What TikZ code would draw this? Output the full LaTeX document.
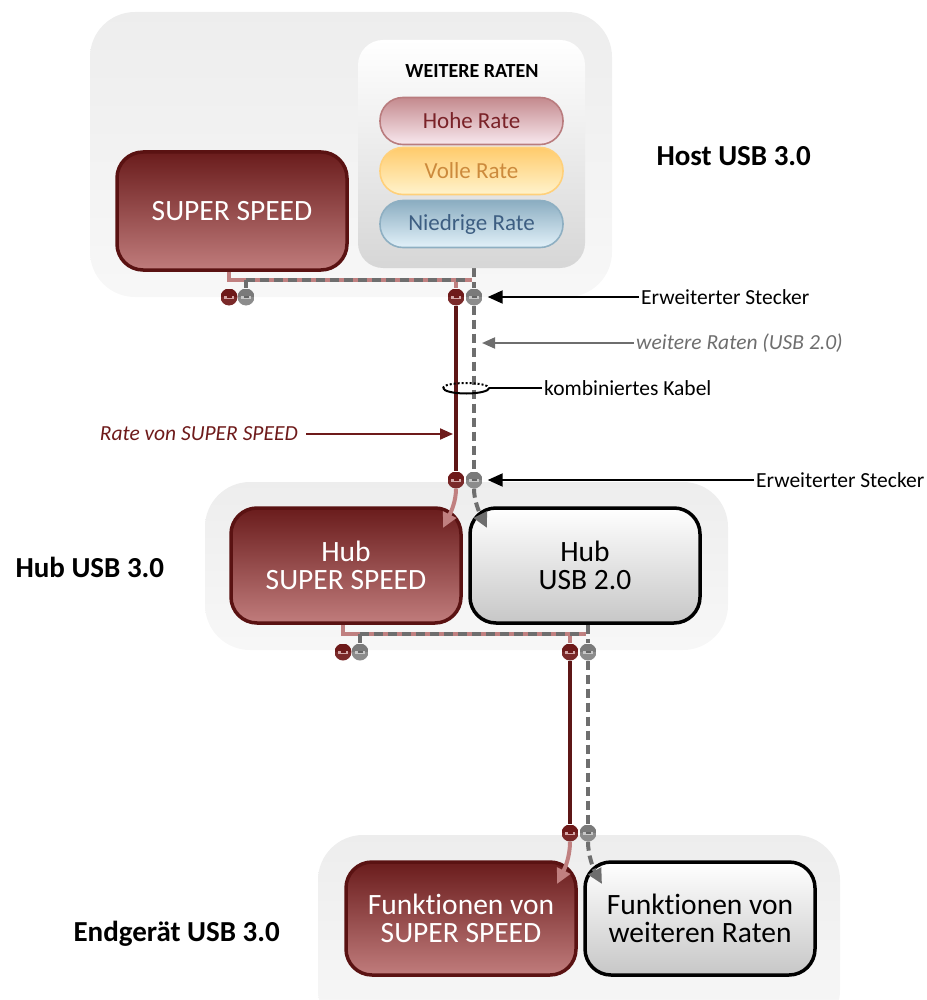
\documentclass[tikz,border=0pt]{standalone}
\usepackage{fontspec}
\setmainfont{Carlito}[Ligatures={NoCommon,NoContextual,NoRequired}]
\usetikzlibrary{arrows.meta,shapes.geometric,calc}
\pgfdeclarelayer{panels}
\pgfdeclarelayer{wires}
\pgfsetlayers{panels,wires,main}

\definecolor{ssedge}{HTML}{5A1212}
\definecolor{sstop}{HTML}{6A1C1C}
\definecolor{ssbot}{HTML}{C07C7C}
\definecolor{pinkwire}{HTML}{C08080}
\definecolor{darkwire}{HTML}{5E1616}
\definecolor{graywire}{HTML}{6E6E6E}
\definecolor{ratered}{HTML}{6E1A1A}
\definecolor{highedge}{HTML}{B97C7E}
\definecolor{hightop}{HTML}{C48A8E}
\definecolor{highbot}{HTML}{F8E8EE}
\definecolor{hightext}{HTML}{7A2228}
\definecolor{fulledge}{HTML}{FFD07A}
\definecolor{fulltop}{HTML}{FFCB6C}
\definecolor{fullbot}{HTML}{FFF3CC}
\definecolor{fulltext}{HTML}{CC8A3C}
\definecolor{lowedge}{HTML}{8EAFC2}
\definecolor{lowtop}{HTML}{8BADC1}
\definecolor{lowbot}{HTML}{E2F1F9}
\definecolor{lowtext}{HTML}{3D5E82}

\tikzset{
  panel/.style={rounded corners=45pt, top color=black!7, bottom color=black!3, inner sep=0pt},
  ssbox/.style={rounded corners=26pt, draw=ssedge, line width=3.5pt, top color=sstop, bottom color=ssbot,
    text=white, align=center, font=\fontsize{29.5}{28}\selectfont, inner sep=0pt},
  usbbox/.style={rounded corners=26pt, draw=black, line width=3.5pt, top color=white, bottom color=black!22,
    text=black, align=center, font=\fontsize{29.5}{28}\selectfont, inner sep=0pt},
  pill/.style={rounded corners=23pt, line width=1.6pt, minimum width=183pt, minimum height=47pt,
    font=\fontsize{23}{24}\selectfont, inner sep=0pt},
  paneltitle/.style={font=\bfseries\fontsize{29}{30}\selectfont},
  anno/.style={font=\fontsize{21.5}{23}\selectfont, inner sep=2pt},
  annoit/.style={font=\itshape\fontsize{21.5}{23}\selectfont, inner sep=2pt},
  conred/.style={circle, minimum size=17pt, inner sep=0pt,
    path picture={
      \fill[ratered] (path picture bounding box.north west) rectangle (path picture bounding box.east);
      \fill[ratered!85!pinkwire] (path picture bounding box.south west) rectangle (path picture bounding box.east);
      \draw[line width=3pt, pinkwire!70!white] ($(path picture bounding box.center)+(-5,0)$) -- ++(10,0);
      \draw[line width=1.6pt, ratered] ($(path picture bounding box.center)+(-2.5,0)$) -- ++(5,0);
    }},
  congray/.style={circle, minimum size=17pt, inner sep=0pt,
    path picture={
      \fill[black!52] (path picture bounding box.north west) rectangle (path picture bounding box.east);
      \fill[black!45] (path picture bounding box.south west) rectangle (path picture bounding box.east);
      \draw[line width=3pt, black!22] ($(path picture bounding box.center)+(-5,0)$) -- ++(10,0);
      \draw[line width=1.6pt, black!60] ($(path picture bounding box.center)+(-2.5,0)$) -- ++(5,0);
    }},
  pinkw/.style={draw=pinkwire, line width=4pt},
  darkw/.style={draw=darkwire, line width=4.5pt},
  grayw/.style={draw=graywire, line width=4pt, dash pattern=on 9pt off 5pt},
  pointer/.style={draw=black, line width=2pt, -{Triangle[length=15pt,width=13pt]}},
  flowpink/.style={draw=pinkwire, line width=4pt, -{Triangle[length=15pt,width=14pt]}},
  flowgray/.style={draw=graywire, line width=4pt, dash pattern=on 9pt off 5pt, -{Triangle[length=15pt,width=14pt]}},
}

\begin{document}
\begin{tikzpicture}[x=1pt,y=-1pt]
\useasboundingbox (0,0) rectangle (926,1000);

% ---------- background panels ----------
\begin{pgfonlayer}{panels}
  \node[panel, minimum width=522pt, minimum height=285pt] (hostpanel) at (351,154.5) {};
  \node[panel, minimum width=523pt, minimum height=168pt] (hubpanel) at (466.5,566) {};
  \node[panel, minimum width=522pt, minimum height=200pt] (devpanel) at (579,935) {};
\end{pgfonlayer}

% ---------- host ----------
\node[ssbox, minimum width=230pt, minimum height=118pt] (hostss) at (232,211) {SUPER SPEED};
\node[rounded corners=25pt, top color=white, bottom color=black!16, minimum width=227pt, minimum height=228pt,
      inner sep=0pt] (others) at (471.5,154) {};
\node[font=\bfseries\fontsize{20}{21}\selectfont] (otherstitle) at (472,71) {WEITERE RATEN};
\node[pill, draw=highedge, top color=hightop, bottom color=highbot, text=hightext] (high) at (471.5,121) {Hohe Rate};
\node[pill, draw=fulledge, top color=fulltop, bottom color=fullbot, text=fulltext] (full) at (471.5,171) {Volle Rate};
\node[pill, draw=lowedge, top color=lowtop, bottom color=lowbot, text=lowtext] (low) at (471.5,224) {Niedrige Rate};
\node[paneltitle, anchor=west] (hostlbl) at (653,156) {Host USB 3.0};

% ---------- hub ----------
\node[ssbox, minimum width=230pt, minimum height=115pt] (hubss) at (346,565.5) {Hub\\SUPER SPEED};
\node[usbbox, minimum width=230pt, minimum height=115pt] (hub20) at (585,565.5) {Hub\\USB 2.0};
\node[paneltitle, anchor=west] (hublbl) at (12,567) {Hub USB 3.0};

% ---------- device ----------
\node[ssbox, minimum width=230pt, minimum height=113pt] (devss) at (461,918.5) {Funktionen von\\SUPER SPEED};
\node[usbbox, minimum width=230pt, minimum height=113pt] (devother) at (700,918.5) {Funktionen von\\weiteren Raten};
\node[paneltitle, anchor=west] (devlbl) at (70,934) {Endgerät USB 3.0};

% ---------- connectors ----------
\node[conred] (hr1) at (229,297) {};
\node[congray] (hg1) at (246,297) {};
\node[conred] (hr2) at (456,297) {};
\node[congray] (hg2) at (474,297) {};
\node[conred] (cr) at (456,480) {};
\node[congray] (cg) at (474,480) {};
\node[conred] (br1) at (343,652) {};
\node[congray] (bg1) at (360,652) {};
\node[conred] (br2) at (570,652) {};
\node[congray] (bg2) at (588,652) {};
\node[conred] (dr) at (570,833) {};
\node[congray] (dg) at (588,833) {};

% ---------- wiring ----------
\begin{pgfonlayer}{wires}
  % host side
  \draw[pinkw] (hostss.south -| hr1) -- (229,280) -- (472,280);
  \draw[pinkw] (hr2 |- 0,280) -- (hr2);
  \draw[grayw] (246,280) -- (470,280);
  \draw[grayw] (246,280) -- (hg1);
  \draw[grayw] (others.south -| hg2) -- (hg2);
  % combined cable
  \draw[darkw] (hr2) -- (cr);
  \draw[grayw] (hg2) -- (cg);
  % hub side
  \draw[pinkw] (hubss.south -| br1) -- (343,634) -- (586,634);
  \draw[pinkw] (br2 |- 0,634) -- (br2);
  \draw[grayw] (360,634) -- (584,634);
  \draw[grayw] (360,634) -- (bg1);
  \draw[grayw] (hub20.south -| bg2) -- (bg2);
  \draw[darkw] (br2) -- (dr);
  \draw[grayw] (bg2) -- (dg);
\end{pgfonlayer}

% ---------- flows into the boxes ----------
\coordinate (hubsstip) at (443,528);
\coordinate (hub20tip) at (487,528);
\coordinate (devsstip) at (557,884);
\coordinate (devothtip) at (602,884);
\draw[flowpink] (cr.south) .. controls (456,500) and (452,510) .. (hubsstip);
\draw[flowgray] (cg.south) .. controls (474,500) and (479,512) .. (hub20tip);
\draw[flowpink] (dr.south) .. controls (570,855) and (566,866) .. (devsstip);
\draw[flowgray] (dg.south) .. controls (588,855) and (593,868) .. (devothtip);

% ---------- annotations ----------
\node[anno, anchor=west] (plug1) at (639,297) {Erweiterter Stecker};
\draw[pointer] (plug1.west) -- ([xshift=5pt]hg2.east);

\node[annoit, anchor=west, text=graywire] (otherlbl) at (634,343) {weitere Raten (USB 2.0)};
\coordinate (othertip) at (482,343);
\draw[draw=graywire, line width=2pt, -{Triangle[length=13pt,width=11pt]}] (otherlbl.west) -- (othertip);

\node[ellipse, minimum width=46pt, minimum height=13pt, inner sep=0pt] (ring) at (466,388) {};
\draw[line width=2pt, dotted] (ring.west) arc[start angle=180, end angle=360, x radius=23, y radius=5];
\draw[line width=2pt] (ring.east) arc[start angle=0, end angle=180, x radius=23, y radius=5.5];
\node[anno, anchor=west] (cable) at (542,388) {kombiniertes Kabel};
\draw[line width=2pt] (cable.west) -- (ring.east);

\node[annoit, anchor=east, text=ratered] (sslbl) at (300,434) {Rate von SUPER SPEED};
\coordinate (sstip) at (453,434);
\draw[draw=ratered, line width=2pt, -{Triangle[length=13pt,width=11pt]}] ([xshift=6pt]sslbl.east) -- (sstip);

\node[anno, anchor=west] (plug2) at (754,480) {Erweiterter Stecker};
\draw[pointer] (plug2.west) -- ([xshift=5pt]cg.east);
\end{tikzpicture}
\end{document}
